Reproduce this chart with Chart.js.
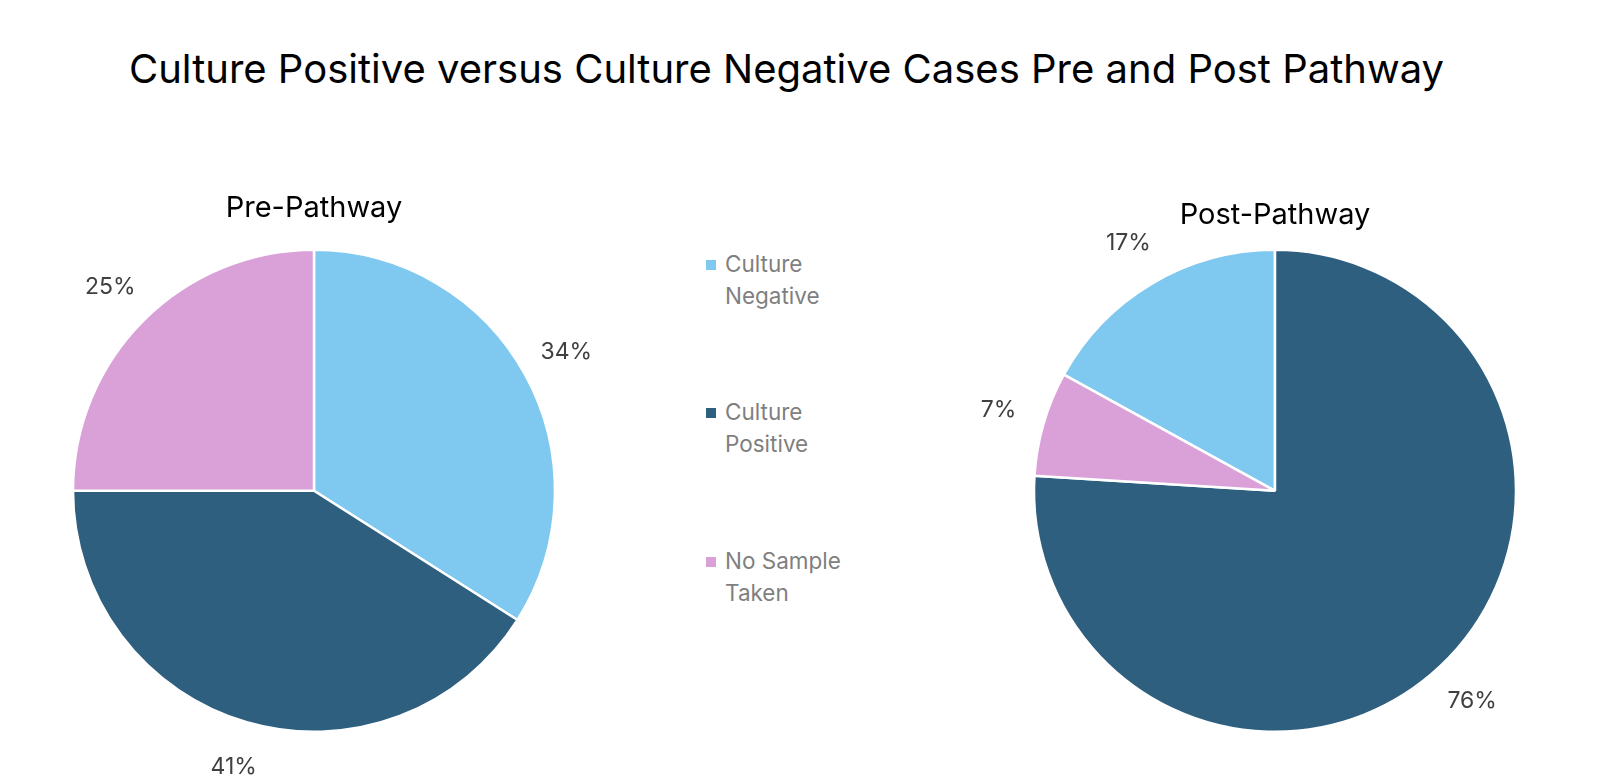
<!DOCTYPE html>
<html>
<head>
<meta charset="utf-8">
<script src="https://cdn.jsdelivr.net/npm/chart.js@4.4.1/dist/chart.umd.min.js"></script>
<style>
	body { margin: 0; background: #fff; width: 1618px; height: 782px; position: relative; overflow: hidden; font-family: Inter, 'Liberation Sans', sans-serif; }
	#title { position: absolute; left: 0; width: 1573px; top: 44px; text-align: center; font-size: 40px; color: #000; line-height: 50px; }
	.box { position: absolute; }
	#pre { left: 0; top: 180px; width: 628px; height: 600px; }
	#post { left: 975px; top: 180px; width: 600px; height: 600px; }
	#legend { position: absolute; left: 706px; top: 0; }
	.item { position: absolute; left: 0; width: 150px; font-size: 22.5px; line-height: 32px; color: #7f7f7f; }
	.item span.sw { position: absolute; left: 0; top: 12px; width: 10px; height: 10px; }
	.item div { margin-left: 19px; width: 125px; }
</style>
</head>
<body>
<div id="title">Culture Positive versus Culture Negative Cases Pre and Post Pathway</div>
<div class="box" id="pre"><canvas id="preChart"></canvas></div>
<div class="box" id="post"><canvas id="postChart"></canvas></div>
<div id="legend"></div>
<script>
// data (percent of cases)
var categories = ['Culture Negative', 'Culture Positive', 'No Sample Taken'];
var preValues = [34, 41, 25];
var postValues = [17, 76, 7];
var colours = ['#7fc8ef', '#2e5f7e', '#daa1d8'];

var labelPlugin = {
	id: 'outsideLabels',
	afterDatasetsDraw: function (chart) {
		var ctx = chart.ctx;
		var meta = chart.getDatasetMeta(0);
		var data = chart.data.datasets[0].data;
		var total = data.reduce(function (a, b) { return a + b; }, 0);
		ctx.save();
		ctx.font = '23px Inter, "Liberation Sans", sans-serif';
		ctx.fillStyle = '#404040';
		ctx.textAlign = 'center';
		ctx.textBaseline = 'middle';
		meta.data.forEach(function (arc, i) {
			var p = arc.getProps(['x', 'y', 'startAngle', 'endAngle', 'outerRadius'], true);
			var mid = (p.startAngle + p.endAngle) / 2;
			var r = p.outerRadius + 47;
			ctx.fillText(Math.round(data[i] / total * 100) + '%', p.x + Math.cos(mid) * r, p.y + Math.sin(mid) * r);
		});
		ctx.restore();
	}
};

function makePie(id, values, title, rotation, titlePad) {
	return new Chart(document.getElementById(id), {
		type: 'pie',
		data: {
			labels: categories,
			datasets: [{
				data: values,
				backgroundColor: colours,
				borderColor: '#ffffff',
				borderWidth: 2.5,
				hoverOffset: 0,
				radius: 241
			}]
		},
		options: {
			responsive: true,
			maintainAspectRatio: false,
			animation: false,
			rotation: rotation,
			layout: { padding: { left: 0, right: 0, top: 0, bottom: 48 } },
			plugins: {
				legend: { display: false },
				tooltip: { enabled: false },
				title: {
					display: true,
					text: title,
					color: '#000',
					font: { family: 'Inter, "Liberation Sans", sans-serif', size: 29, weight: 'normal', lineHeight: 1.2 },
					padding: titlePad
				}
			}
		},
		plugins: [labelPlugin]
	});
}

makePie('preChart', preValues, 'Pre-Pathway', 0, { top: 11, bottom: 23.8 });
// post chart starts Culture Positive at 12 o'clock
makePie('postChart', postValues, 'Post-Pathway', -postValues[0] / postValues.reduce(function (a, b) { return a + b; }, 0) * 360, { top: 18, bottom: 16.8 });

// legend
var legendTops = [248, 396, 545];
var legend = document.getElementById('legend');
categories.forEach(function (name, i) {
	var el = document.createElement('div');
	el.className = 'item';
	el.style.top = legendTops[i] + 'px';
	el.innerHTML = '<span class="sw" style="background:' + colours[i] + '"></span><div>' + name + '</div>';
	legend.appendChild(el);
});
</script>
</body>
</html>
